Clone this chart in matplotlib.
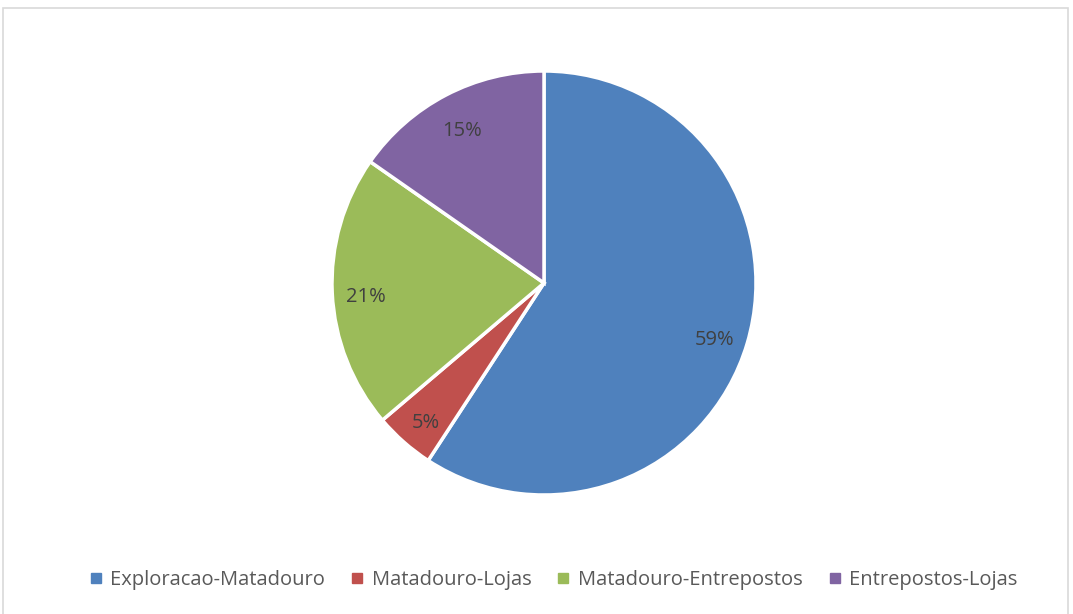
import matplotlib.pyplot as plt
import matplotlib.transforms as mtransforms
from matplotlib.patches import Rectangle
from matplotlib.lines import Line2D

# Data
categories = ['Exploracao-Matadouro', 'Matadouro-Lojas', 'Matadouro-Entrepostos', 'Entrepostos-Lojas']
shares = [59.2, 4.6, 20.9, 15.3]
colors = ['#4F81BD', '#C0504D', '#9BBB59', '#8064A2']

plt.rcParams['font.family'] = ['Open Sans', 'DejaVu Sans']

W, H = 1073, 614
fig = plt.figure(figsize=(W / 100, H / 100), dpi=100)

# light grey chart frame
fig.patches.append(Rectangle((3 / W, -0.01), (1068 - 3) / W, (H - 8) / H + 0.01,
                             transform=fig.transFigure, fill=False,
                             edgecolor='#D9D9D9', linewidth=1.2))

cx, cy, r = 544, 283, 212
ax = fig.add_axes([(cx - r) / W, (H - cy - r) / H, 2 * r / W, 2 * r / H])
wedges, texts, autotexts = ax.pie(
    shares, colors=colors, startangle=90, counterclock=False,
    autopct=lambda p: f'{p:.0f}%', pctdistance=0.84,
    wedgeprops=dict(edgecolor='white', linewidth=2.5),
    textprops=dict(color='#404040', fontsize=14.5))
# nudge the percent labels down a little, as in the original
shift = mtransforms.ScaledTranslation(0, -6 / 100, fig.dpi_scale_trans)
for t in autotexts:
    t.set_transform(t.get_transform() + shift)
ax.set_xlim(-1.0, 1.0)
ax.set_ylim(-1.0, 1.0)
ax.set_aspect('equal')
ax.axis('off')

handles = [Line2D([], [], marker='s', linestyle='none', markersize=7,
                  markerfacecolor=c, markeredgecolor=c) for c in colors]
fig.legend(handles, categories, loc='center', bbox_to_anchor=(0.515, 1 - 580 / H),
           ncol=4, frameon=False, fontsize=14.5, labelcolor='#595959',
           handletextpad=0.3, columnspacing=1.2, handlelength=0.8)

fig.savefig('out.png', dpi=100)
